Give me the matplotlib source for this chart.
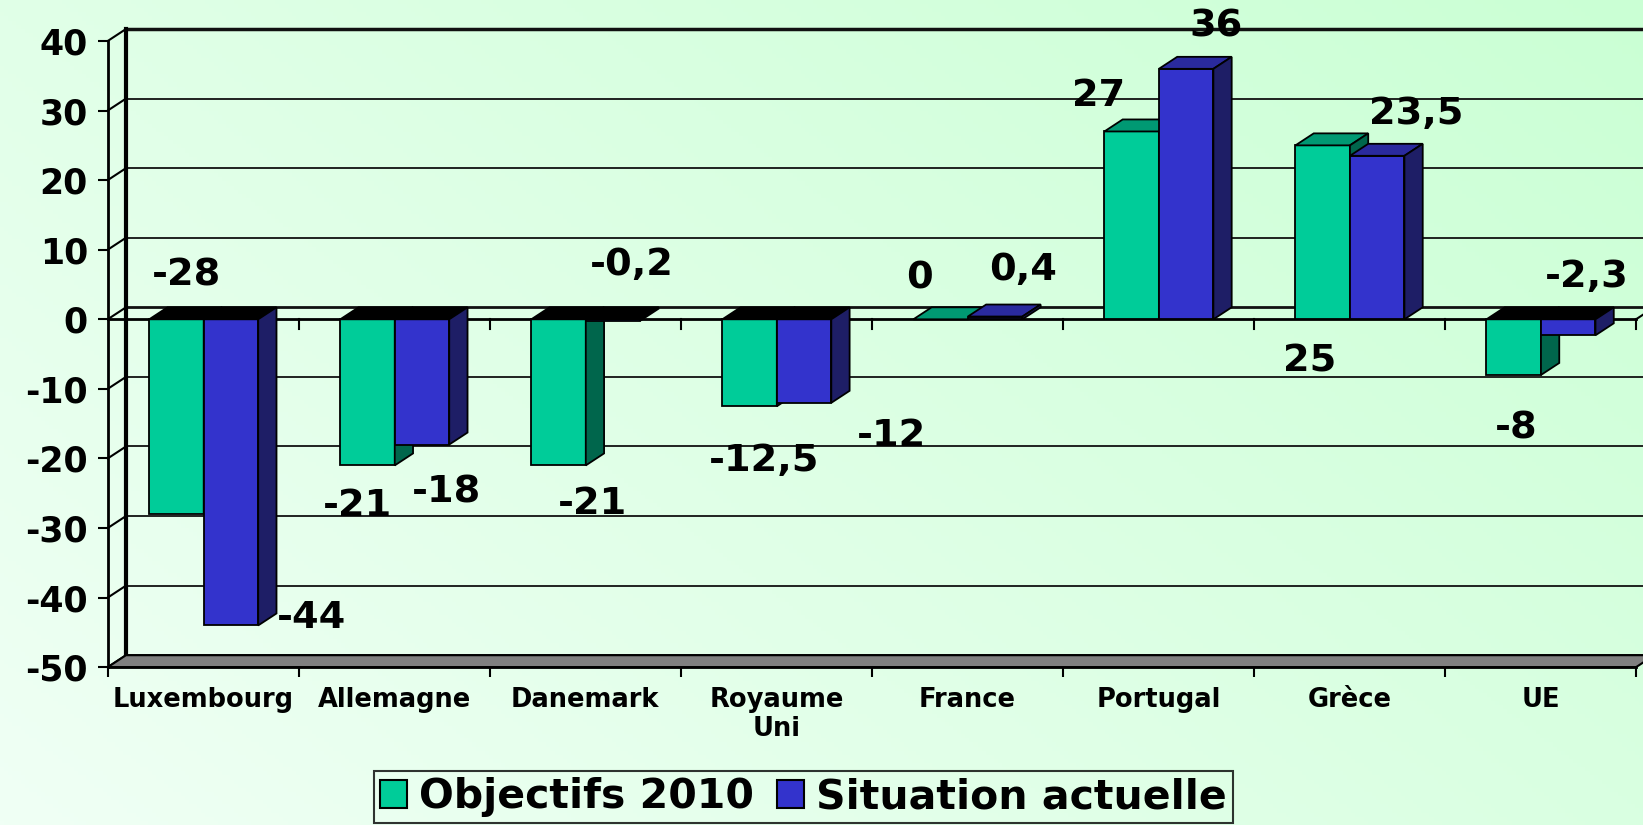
import numpy as np
import matplotlib
matplotlib.use("Agg")
import matplotlib.pyplot as plt
from matplotlib.patches import Polygon, Patch
from matplotlib.colors import to_rgb

# ---------------- data ----------------
categories = ["Luxembourg", "Allemagne", "Danemark", "Royaume\nUni", "France",
              "Portugal", "Grèce", "UE"]
objectifs_2010 = [-28, -21, -21, -12.5, 0, 27, 25, -8]
situation_actuelle = [-44, -18, -0.2, -12, 0.4, 36, 23.5, -2.3]
series_names = ["Objectifs 2010", "Situation actuelle"]
y_ticks = [-50, -40, -30, -20, -10, 0, 10, 20, 30, 40]

# ---------------- style / layout ----------------
front_colors = ["#00CC99", "#3333CC"]
top_colors = ["#009973", "#2A2A9E"]
side_colors = ["#00664C", "#1E1E66"]
neg_top_color = "#000000"

W, H = 1643, 825
X0_PX, X1_PX = 107.7, 1636.0      # front plane x extent
YTOP_PX, YBOT_PX = 41.0, 667.2    # front plane y of 40 and -50
ncat = len(categories)
px_per_cat = (X1_PX - X0_PX) / ncat
px_per_val = (YBOT_PX - YTOP_PX) / 90.0
DX = 18.3 / px_per_cat            # depth offset (category units)
DY = 12.0 / px_per_val            # depth offset (value units)
BAR_OFF = 41.5 / px_per_cat
BAR_W = 54.5 / px_per_cat

# label anchor positions (category units, value units), baseline-anchored
label_pos = [
    [(0.413, 4.8), (1.305, -28.3), (2.540, -28.0), (3.436, -21.8),
     (4.247, 4.4), (5.189, 30.65), (6.293, -7.5), (7.372, -17.2)],
    [(1.067, -44.4), (1.771, -26.4), (2.744, 6.36), (4.105, -18.2),
     (4.791, 5.65), (5.802, 40.6), (6.851, 28.07), (7.741, 4.64)],
]

plt.rcParams['font.family'] = ['DejaVu Sans']

fig = plt.figure(figsize=(W / 100, H / 100), dpi=100)

# background gradient
bg = fig.add_axes([0, 0, 1, 1], zorder=-5)
bg.axis("off")
c_light = np.array(to_rgb("#F0FFF5"))
c_dark = np.array(to_rgb("#CAFFD4"))
yy, xx = np.mgrid[0:1:200j, 0:1:400j]   # yy=0 top
t = np.clip(0.6 * xx + 0.4 * (1 - yy), 0, 1)
img = c_light[None, None, :] * (1 - t[..., None]) + c_dark[None, None, :] * t[..., None]
bg.imshow(img, aspect="auto", extent=[0, 1, 0, 1], origin="upper")
bg.set_xlim(0, 1)
bg.set_ylim(0, 1)

ax = fig.add_axes([X0_PX / W, 1 - YBOT_PX / H, (X1_PX - X0_PX) / W, (YBOT_PX - YTOP_PX) / H])
ax.set_facecolor("none")
ax.set_xlim(0, ncat)
ax.set_ylim(-50, 40)

# spines
for s in ["top", "right"]:
    ax.spines[s].set_visible(False)
ax.spines["left"].set_linewidth(2)
ax.spines["bottom"].set_linewidth(2)
ax.spines["left"].set_zorder(6)
ax.spines["bottom"].set_zorder(6)

# y ticks
ax.set_yticks(y_ticks)
ax.set_yticklabels([str(v) for v in y_ticks], fontsize=25, fontweight="bold")
ax.tick_params(axis="y", length=7.2, width=1.5, pad=7, direction="out")

# x ticks: boundaries major, labels on minor
ax.set_xticks(range(ncat + 1))
ax.set_xticklabels([])
ax.set_xticks(np.arange(ncat) + 0.5, minor=True)
ax.set_xticklabels(categories, minor=True, fontsize=18.5, fontweight="bold",
                   linespacing=1.15)
ax.tick_params(axis="x", which="major", length=7.2, width=1.5, direction="out")
ax.tick_params(axis="x", which="minor", length=0, pad=14)

# back wall gridlines and left side-wall diagonals
for v in y_ticks:
    lw = 2.5 if v in (40,) else (2.0 if v == 0 else 1.3)
    ax.plot([DX, ncat + DX], [v + DY, v + DY], color="#111111", lw=lw,
            clip_on=False, zorder=1, solid_capstyle="butt")
    ax.plot([0, DX], [v, v + DY], color="black", lw=1.5, clip_on=False, zorder=1)
ax.plot([DX, DX], [-50 + DY, 40 + DY], color="black", lw=3, clip_on=False, zorder=1.2)

# floor
ax.add_patch(Polygon([(0, -50), (ncat, -50), (ncat + DX, -50 + DY), (DX, -50 + DY)],
                     closed=True, facecolor="#808080", edgecolor="black", lw=1.5,
                     clip_on=False, zorder=1.5))

# zero plane front edge and its ticks
ax.plot([0, ncat], [0, 0], color="black", lw=2, clip_on=False, zorder=2)
ax.plot([ncat, ncat + DX], [0, DY], color="black", lw=1.5, clip_on=False, zorder=2)
tick_len = 10.0 / px_per_val
for k in range(1, ncat + 1):
    ax.plot([k, k], [0, -tick_len], color="black", lw=1.5, clip_on=False, zorder=2)

# 3D bars
series = [objectifs_2010, situation_actuelle]
for i in range(ncat):
    for j, vals in enumerate(series):
        v = vals[i]
        x0 = i + BAR_OFF + j * BAR_W
        x1 = x0 + BAR_W
        top, bot = max(0, v), min(0, v)
        z = 3 + i * 0.1 + j * 0.05
        kw = dict(closed=True, edgecolor="black", lw=1.3, clip_on=False, zorder=z)
        # front face
        ax.add_patch(Polygon([(x0, bot), (x1, bot), (x1, top), (x0, top)],
                             facecolor=front_colors[j], **kw))
        # top face
        tc = top_colors[j] if v >= 0 else neg_top_color
        ax.add_patch(Polygon([(x0, top), (x1, top), (x1 + DX, top + DY), (x0 + DX, top + DY)],
                             facecolor=tc, **kw))
        # side face
        ax.add_patch(Polygon([(x1, bot), (x1 + DX, bot + DY), (x1 + DX, top + DY), (x1, top)],
                             facecolor=side_colors[j], **kw))

# data labels
def fmt(v):
    return f"{v:g}".replace(".", ",")

for j, vals in enumerate(series):
    for i, v in enumerate(vals):
        lx, ly = label_pos[j][i]
        ax.text(lx, ly, fmt(v), ha="center", va="baseline", fontsize=27.5,
                fontweight="bold", color="black", clip_on=False, zorder=10)

# legend
handles = [Patch(facecolor=front_colors[k], edgecolor="black", lw=1.5, label=series_names[k])
           for k in range(2)]
leg = fig.legend(handles=handles, loc="upper left", bbox_to_anchor=(374 / W, 1 - 771 / H),
                 ncol=2, prop={"weight": "bold", "size": 29.5}, frameon=True,
                 fancybox=False, handlelength=0.66, handleheight=0.66, handletextpad=0.3,
                 columnspacing=0.55, borderpad=0.15, borderaxespad=0)
leg.get_frame().set_facecolor("none")
leg.get_frame().set_edgecolor("black")
leg.get_frame().set_linewidth(1.5)

fig.savefig("out.png", dpi=100)
